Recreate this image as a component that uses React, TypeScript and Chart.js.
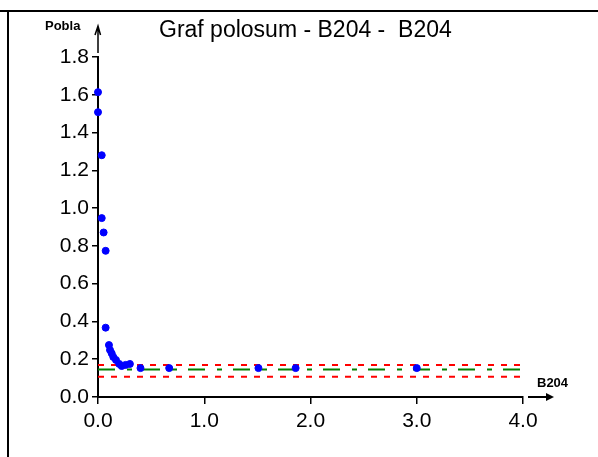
import React, { useEffect, useRef } from "react";
import { Chart, registerables } from "chart.js";

Chart.register(...registerables);

const titleText = "Graf polosum - B204 -  B204";
const yAxisLabel = "Pobla";
const xAxisLabel = "B204";

const xValues = [0.0, 0.0, 0.035, 0.035, 0.053, 0.072, 0.072, 0.103, 0.113, 0.129, 0.144, 0.169, 0.2, 0.223, 0.26, 0.3, 0.4, 0.67, 1.51, 1.86, 3.0];
const yValues = [1.614, 1.508, 1.28, 0.947, 0.871, 0.774, 0.367, 0.275, 0.249, 0.231, 0.212, 0.196, 0.175, 0.164, 0.17, 0.175, 0.153, 0.153, 0.153, 0.153, 0.153];

const lineRangeX = [0, 4];
const meanLevel = 0.146;
const upperLevel = 0.169;
const lowerLevel = 0.107;

const xTicks = [0, 1, 2, 3, 4];
const yTicks = [0, 0.2, 0.4, 0.6, 0.8, 1.0, 1.2, 1.4, 1.6, 1.8];

const SANS = "'Liberation Sans', Arial, sans-serif";

const decorPlugin = {
  id: "decor",
  afterDraw(chart: any) {
    const ctx = chart.ctx;
    const area = chart.chartArea;
    ctx.save();
    // frame
    ctx.strokeStyle = "#000";
    ctx.lineWidth = 2;
    ctx.beginPath();
    ctx.moveTo(0, 11);
    ctx.lineTo(598, 11);
    ctx.moveTo(8, 11);
    ctx.lineTo(8, 457);
    ctx.stroke();

    // y axis arrow
    const ax = area.left;
    ctx.lineWidth = 1.5;
    ctx.beginPath();
    ctx.moveTo(ax, area.top - 4);
    ctx.lineTo(ax, 26);
    ctx.moveTo(ax - 3, 35);
    ctx.lineTo(ax, 26);
    ctx.lineTo(ax + 2.5, 35);
    ctx.stroke();

    // x axis arrow
    const ay = area.bottom;
    ctx.lineWidth = 2;
    ctx.beginPath();
    ctx.moveTo(area.right + 5, ay);
    ctx.lineTo(area.right + 28, ay);
    ctx.stroke();
    ctx.fillStyle = "#000";
    ctx.beginPath();
    ctx.moveTo(area.right + 31, ay);
    ctx.lineTo(area.right + 23, ay - 4);
    ctx.lineTo(area.right + 23, ay + 4);
    ctx.closePath();
    ctx.fill();

    // texts
    ctx.fillStyle = "#000";
    ctx.font = "23px " + SANS;
    ctx.textAlign = "left";
    ctx.textBaseline = "alphabetic";
    ctx.fillText(titleText, 159, 37);

    ctx.font = "bold 13px " + SANS;
    ctx.fillText(yAxisLabel, 45, 30);
    ctx.fillText(xAxisLabel, 537, 387);
    ctx.restore();
  },
};

export default function App() {
  const ref = useRef<HTMLCanvasElement | null>(null);

  useEffect(() => {
    if (!ref.current) return;
    const points = xValues.map((x, i) => ({ x, y: yValues[i] }));
    const hLine = (v: number) => lineRangeX.map((x) => ({ x, y: v }));
    const chart = new Chart(ref.current, {
      type: "scatter",
      data: {
        datasets: [
          {
            label: "points",
            data: points,
            backgroundColor: "#0000ff",
            borderColor: "#0000ff",
            pointRadius: 3.5,
            pointHoverRadius: 3.5,
            clip: false as any,
          },
          {
            type: "line" as any,
            label: "mean",
            data: hLine(meanLevel),
            borderColor: "#008000",
            borderWidth: 2,
            borderDash: [17, 12, 5, 11],
            pointRadius: 0,
            showLine: true,
            fill: false,
          },
          {
            type: "line" as any,
            label: "upper",
            data: hLine(upperLevel),
            borderColor: "#ff0000",
            borderWidth: 2,
            borderDash: [6, 7],
            pointRadius: 0,
            showLine: true,
            fill: false,
          },
          {
            type: "line" as any,
            label: "lower",
            data: hLine(lowerLevel),
            borderColor: "#ff0000",
            borderWidth: 2,
            borderDash: [6, 7],
            pointRadius: 0,
            showLine: true,
            fill: false,
          },
        ],
      },
      options: {
        responsive: false,
        animation: false,
        devicePixelRatio: 1,
        layout: { padding: { left: 0, top: 57, right: 75, bottom: 20 } },
        plugins: {
          legend: { display: false },
          title: { display: false },
          tooltip: { enabled: false },
        },
        scales: {
          x: {
            type: "linear",
            min: 0,
            max: 4,
            afterFit: (s: any) => {
              s.height = 40;
            },
            afterBuildTicks: (s: any) => {
              s.ticks = xTicks.map((v) => ({ value: v }));
            },
            ticks: {
              color: "#000",
              padding: 5,
              font: { family: SANS, size: 21 },
              callback: (v: any) => Number(v).toFixed(1),
              maxRotation: 0,
            },
            grid: {
              drawOnChartArea: false,
              drawTicks: true,
              tickLength: 7,
              color: "#000",
              lineWidth: 1.5,
            },
            border: { display: true, color: "#000", width: 2 },
          },
          y: {
            type: "linear",
            min: 0,
            max: 1.8,
            afterFit: (s: any) => {
              s.width = 98;
            },
            afterBuildTicks: (s: any) => {
              s.ticks = yTicks.map((v) => ({ value: v }));
            },
            ticks: {
              color: "#000",
              padding: 3,
              font: { family: SANS, size: 21 },
              callback: (v: any) => Number(v).toFixed(1),
            },
            grid: {
              drawOnChartArea: false,
              drawTicks: true,
              tickLength: 6,
              color: "#000",
              lineWidth: 1.5,
            },
            border: { display: true, color: "#000", width: 2 },
          },
        },
      },
      plugins: [decorPlugin],
    });
    return () => chart.destroy();
  }, []);

  return (
    <div style={{ position: "absolute", left: 0, top: 0, width: 598, height: 457, background: "#fff" }}>
      <canvas ref={ref} width={598} height={457} style={{ width: 598, height: 457, display: "block" }} />
    </div>
  );
}
